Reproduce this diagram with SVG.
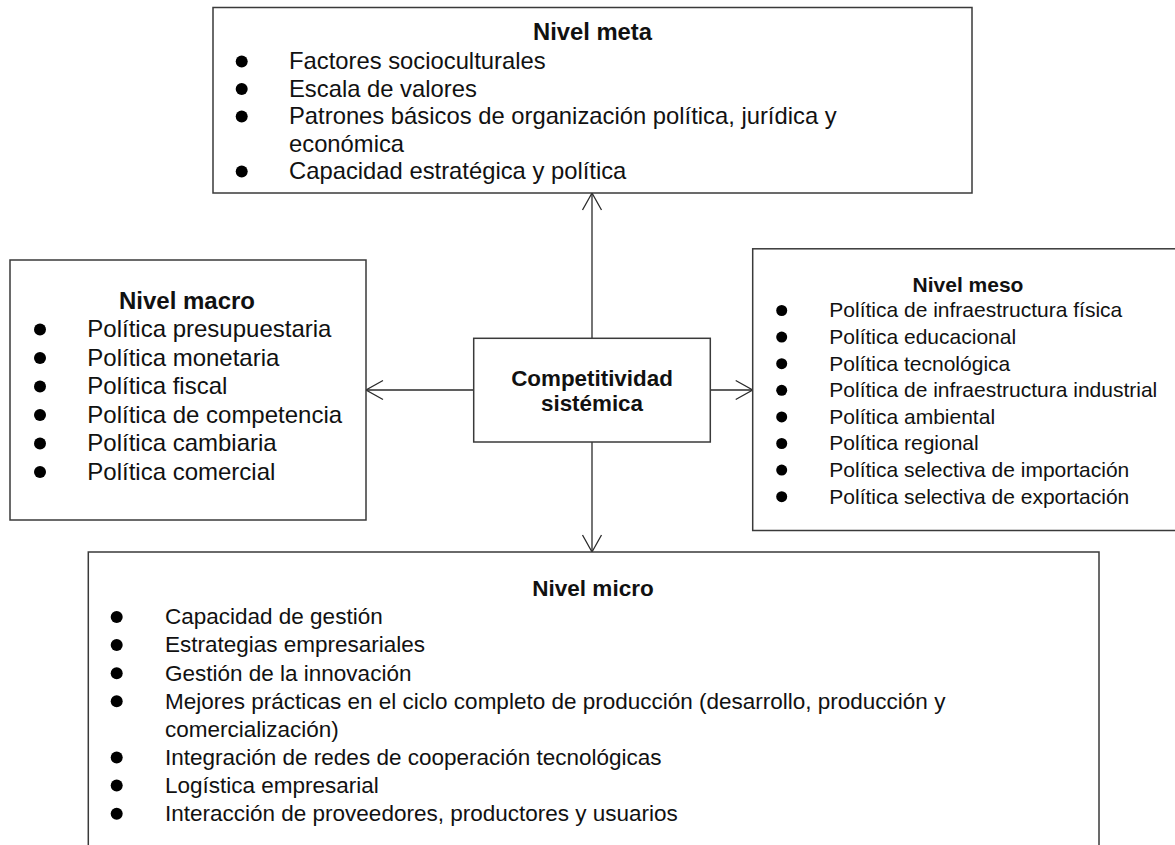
<svg xmlns="http://www.w3.org/2000/svg" width="1175" height="845" viewBox="0 0 1175 845">
<style>
.box{fill:#fff;stroke:#3a3a3a;stroke-width:1.5}
.t{font-family:"Liberation Sans",Arial,Helvetica,sans-serif;fill:#111}
.b{font-weight:bold;text-anchor:middle}
.conn{stroke:#2a2a2a;stroke-width:1.3;fill:none}
.bul{fill:#000}
</style>
<defs>
<marker id="arr" markerUnits="userSpaceOnUse" viewBox="-19 -11 21 22" markerWidth="21" markerHeight="22" refX="0" refY="0" orient="auto" overflow="visible">
<path d="M -17 -9.5 L 0 0 L -17 9.5" fill="none" stroke="#2a2a2a" stroke-width="1.3"/>
</marker>
</defs>
<rect width="1175" height="845" fill="#fff"/>

<g id="connectors">
<line class="conn" x1="592" y1="338.3" x2="592" y2="193" marker-end="url(#arr)"/>
<line class="conn" x1="473.7" y1="390" x2="366" y2="390" marker-end="url(#arr)"/>
<line class="conn" x1="710.3" y1="390" x2="752.7" y2="390" marker-end="url(#arr)"/>
<line class="conn" x1="592" y1="442" x2="592" y2="552" marker-end="url(#arr)"/>
</g>

<g id="meta">
<rect class="box" x="213" y="7.5" width="759" height="185.5"/>
<g class="t" font-size="23.8">
<text class="b" x="592.5" y="40">Nivel meta</text>
<text x="289" y="69">Factores socioculturales</text>
<text x="289" y="96.5">Escala de valores</text>
<text x="289" y="124">Patrones básicos de organización política, jurídica y</text>
<text x="289" y="151.5">económica</text>
<text x="289" y="179">Capacidad estratégica y política</text>
</g>
<g class="bul">
<circle cx="241.7" cy="61.5" r="6"/>
<circle cx="241.7" cy="89" r="6"/>
<circle cx="241.7" cy="116.5" r="6"/>
<circle cx="241.7" cy="171.5" r="6"/>
</g>
</g>

<g id="macro">
<rect class="box" x="10" y="260" width="356" height="260"/>
<g class="t" font-size="24">
<text class="b" x="187" y="309.3">Nivel macro</text>
<text x="87.3" y="337.3">Política presupuestaria</text>
<text x="87.3" y="365.8">Política monetaria</text>
<text x="87.3" y="394.3">Política fiscal</text>
<text x="87.3" y="422.8">Política de competencia</text>
<text x="87.3" y="451.3">Política cambiaria</text>
<text x="87.3" y="479.8">Política comercial</text>
</g>
<g class="bul">
<circle cx="40" cy="329.6" r="6"/>
<circle cx="40" cy="358.1" r="6"/>
<circle cx="40" cy="386.6" r="6"/>
<circle cx="40" cy="415.1" r="6"/>
<circle cx="40" cy="443.6" r="6"/>
<circle cx="40" cy="472.1" r="6"/>
</g>
</g>

<g id="center">
<rect class="box" x="473.7" y="338.3" width="236.6" height="103.7"/>
<g class="t" font-size="22.4">
<text class="b" x="592" y="386">Competitividad</text>
<text class="b" x="592" y="411">sistémica</text>
</g>
</g>

<g id="meso">
<rect class="box" x="752.7" y="248.8" width="440" height="281.7"/>
<g class="t" font-size="21">
<text class="b" x="968" y="291.7">Nivel meso</text>
<text x="829.3" y="317.3">Política de infraestructura física</text>
<text x="829.3" y="343.9">Política educacional</text>
<text x="829.3" y="370.5">Política tecnológica</text>
<text x="829.3" y="397.1">Política de infraestructura industrial</text>
<text x="829.3" y="423.7">Política ambiental</text>
<text x="829.3" y="450.3">Política regional</text>
<text x="829.3" y="476.9">Política selectiva de importación</text>
<text x="829.3" y="503.5">Política selectiva de exportación</text>
</g>
<g class="bul">
<circle cx="781.7" cy="310.5" r="5.5"/>
<circle cx="781.7" cy="337.1" r="5.5"/>
<circle cx="781.7" cy="363.7" r="5.5"/>
<circle cx="781.7" cy="390.3" r="5.5"/>
<circle cx="781.7" cy="416.9" r="5.5"/>
<circle cx="781.7" cy="443.5" r="5.5"/>
<circle cx="781.7" cy="470.1" r="5.5"/>
<circle cx="781.7" cy="496.7" r="5.5"/>
</g>
</g>

<g id="micro">
<rect class="box" x="88.3" y="552" width="1010.7" height="320"/>
<g class="t" font-size="22.5">
<text class="b" x="593" y="596">Nivel micro</text>
<text x="165" y="624.3">Capacidad de gestión</text>
<text x="165" y="652.4">Estrategias empresariales</text>
<text x="165" y="680.5">Gestión de la innovación</text>
<text x="165" y="708.6">Mejores prácticas en el ciclo completo de producción (desarrollo, producción y</text>
<text x="165" y="736.7">comercialización)</text>
<text x="165" y="764.8">Integración de redes de cooperación tecnológicas</text>
<text x="165" y="792.9">Logística empresarial</text>
<text x="165" y="821">Interacción de proveedores, productores y usuarios</text>
</g>
<g class="bul">
<circle cx="116.7" cy="617" r="6"/>
<circle cx="116.7" cy="645.1" r="6"/>
<circle cx="116.7" cy="673.2" r="6"/>
<circle cx="116.7" cy="701.3" r="6"/>
<circle cx="116.7" cy="757.5" r="6"/>
<circle cx="116.7" cy="785.6" r="6"/>
<circle cx="116.7" cy="813.7" r="6"/>
</g>
</g>
</svg>
